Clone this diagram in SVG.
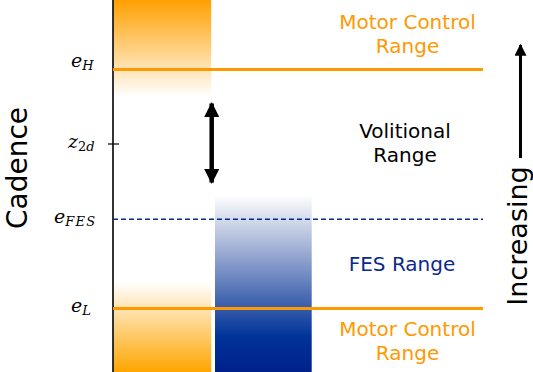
<svg xmlns="http://www.w3.org/2000/svg" width="533" height="372" viewBox="0 0 533 372">
<style>
.orange-text{font-family:"DejaVu Sans",sans-serif;font-size:20px;fill:#FF9900;text-anchor:middle}
.black-text{font-family:"DejaVu Sans",sans-serif;font-size:20px;fill:#000;text-anchor:middle}
.blue-text{font-family:"DejaVu Sans",sans-serif;font-size:20px;fill:#0A2A8C;text-anchor:middle}
.math{font-family:"DejaVu Serif",serif;font-style:italic;fill:#000}
.main{font-size:19px}
.sub{font-size:13px}
.axis-title{font-family:"DejaVu Sans",sans-serif;font-size:28px;fill:#000;text-anchor:middle}
.oline{stroke:#FF9900;stroke-width:3;fill:none}
</style>
<defs>
<linearGradient id="gTop" x1="0" y1="0" x2="0" y2="97" gradientUnits="userSpaceOnUse">
<stop offset="0" stop-color="#FFA000" stop-opacity="1"/>
<stop offset="1" stop-color="#FFA000" stop-opacity="0"/>
</linearGradient>
<linearGradient id="gBot" x1="0" y1="282" x2="0" y2="372" gradientUnits="userSpaceOnUse">
<stop offset="0" stop-color="#FFA500" stop-opacity="0"/>
<stop offset="1" stop-color="#FFA500" stop-opacity="1"/>
</linearGradient>
<linearGradient id="gBlue" x1="0" y1="195" x2="0" y2="372" gradientUnits="userSpaceOnUse">
<stop offset="0" stop-color="#0A2E8C" stop-opacity="0"/>
<stop offset="0.8" stop-color="#003399" stop-opacity="1"/>
<stop offset="1" stop-color="#00208A" stop-opacity="1"/>
</linearGradient>
<marker id="ahead" viewBox="0 0 10 10" refX="9" refY="5" markerWidth="3.4" markerHeight="3.4" orient="auto-start-reverse" markerUnits="strokeWidth">
<path d="M0,0 L10,5 L0,10 Z" fill="#000"/>
</marker>
<marker id="ahead2" viewBox="0 0 10 10" refX="9" refY="5" markerWidth="4" markerHeight="4" orient="auto-start-reverse" markerUnits="strokeWidth">
<path d="M0,0 L10,5 L0,10 Z" fill="#000"/>
</marker>
</defs>

<g id="bars">
<rect x="113.5" y="0" width="97.7" height="97" fill="url(#gTop)"/>
<rect x="113.5" y="282" width="97.7" height="90" fill="url(#gBot)"/>
<rect x="215" y="195" width="96.7" height="177" fill="url(#gBlue)"/>
</g>

<g id="axis">
<line x1="113" y1="0" x2="113" y2="372" stroke="#000" stroke-width="1.6"/>
<line x1="108" y1="144" x2="119" y2="144" stroke="#000" stroke-width="1.2"/>
</g>

<g id="connectors">
<line class="oline" x1="113" y1="69.5" x2="483" y2="69.5"/>
<line class="oline" x1="113" y1="308.5" x2="483" y2="308.5"/>
<line x1="113" y1="219.3" x2="483" y2="219.3" stroke="#0A2A8C" stroke-width="1.5" stroke-dasharray="5,3"/>
<line x1="211.7" y1="103.5" x2="211.7" y2="182.5" stroke="#000" stroke-width="4.5" marker-start="url(#ahead)" marker-end="url(#ahead)"/>
<line x1="520.5" y1="158" x2="520.5" y2="45" stroke="#000" stroke-width="3" marker-end="url(#ahead2)"/>
</g>

<g id="labels-left">
<text class="math main" x="71" y="66.5">e<tspan class="sub" dy="3.5">H</tspan></text>
<text class="math main" x="68" y="147.5">z<tspan class="sub" font-style="normal" dy="3">2</tspan><tspan class="sub">d</tspan></text>
<text class="math main" x="54" y="223">e<tspan class="sub" dy="3" letter-spacing="1.3">FES</tspan></text>
<text class="math main" x="71" y="311.5">e<tspan class="sub" dy="3.5">L</tspan></text>
<text class="axis-title" transform="translate(26.5,168) rotate(-90)">Cadence</text>
</g>

<g id="motor-top">
<text class="orange-text" x="407.5" y="28.5">Motor Control</text>
<text class="orange-text" x="407.5" y="52.5">Range</text>
</g>
<g id="volitional">
<text class="black-text" x="405" y="138">Volitional</text>
<text class="black-text" x="405" y="162">Range</text>
</g>
<g id="fes">
<text class="blue-text" x="402" y="271">FES Range</text>
</g>
<g id="motor-bottom">
<text class="orange-text" x="407.5" y="336">Motor Control</text>
<text class="orange-text" x="407.5" y="360">Range</text>
</g>
<g id="increasing">
<text class="axis-title" transform="translate(527,236) rotate(-90)" style="font-size:27px">Increasing</text>
</g>
</svg>
